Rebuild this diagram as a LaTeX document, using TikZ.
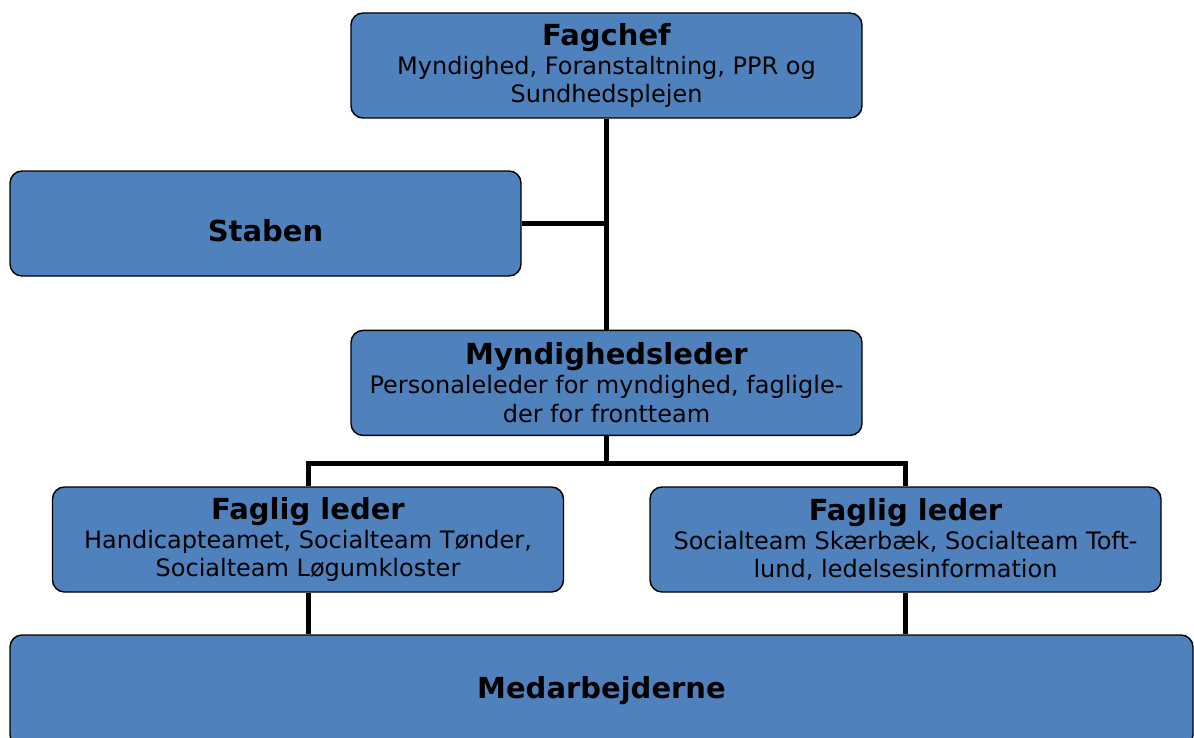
\documentclass[tikz,border=0pt]{standalone}
\usepackage{fontspec}
\setmainfont{DejaVu Sans}
\usetikzlibrary{positioning}
\usetikzlibrary{calc}
\definecolor{boksblaa}{HTML}{4F81BD}
\tikzstyle{boks} = [rectangle, rounded corners=6pt, minimum width=255.5pt, minimum height=52.5pt, inner sep=2pt, align=center, fill=boksblaa, draw=black, line width=0.7pt]
\tikzstyle{linje} = [line width=2.5pt, black]
\newcommand{\overskrift}[1]{{\fontsize{14.5}{17}\selectfont\bfseries #1}}
\newcommand{\flyt}[2]{\raisebox{#1}[\height][\depth]{#2}}
\tikzstyle{every node}=[font=\fontsize{12}{14.4}\selectfont]

\begin{document}
\begin{tikzpicture}[x=0.5pt, y=-0.5pt]
		\clip (0,0) rectangle (1194,738);
		\useasboundingbox (0,0) rectangle (1194,738);
		%kasserne
		\node (fagchef) [boks] at (606.5,65.5) {\overskrift{Fagchef}\\Myndighed, Foranstaltning, PPR og\\Sundhedsplejen};
		\node (staben) [boks] at (265.5,223.5) {\flyt{-3.5pt}{\overskrift{Staben}}};
		\node (myndig) [boks, below=105.5pt of fagchef] {\overskrift{Myndighedsleder}\\Personaleleder for myndighed, fagligle-\\der for frontteam};
		\node (fag1) [boks] at (308,539.5) {\overskrift{Faglig leder}\\Handicapteamet, Socialteam Tønder,\\Socialteam Løgumkloster};
		\node (fag2) [boks] at (905.5,539.5) {\overskrift{Faglig leder}\\Socialteam Skærbæk, Socialteam Toft-\\lund, ledelsesinformation};
		\node (medarb) [boks, minimum width=591.5pt, minimum height=56pt] at (601.5,691) {\overskrift{Medarbejderne}};
		
		%forbindelser
		\coordinate (gren) at ($(myndig.south)+(0,27)$);
		\draw [linje](fagchef) -- (myndig);
		\draw [linje](staben.east) -- (staben.east -| fagchef.south);
		\draw [linje](myndig.south) -- (gren);
		\draw [linje](fag1.north) |- (gren) -| (fag2.north);
		\draw [linje](fag1.south) -- (fag1.south |- medarb.north);
		\draw [linje](fag2.south) -- (fag2.south |- medarb.north);
	\end{tikzpicture}
\end{document}
